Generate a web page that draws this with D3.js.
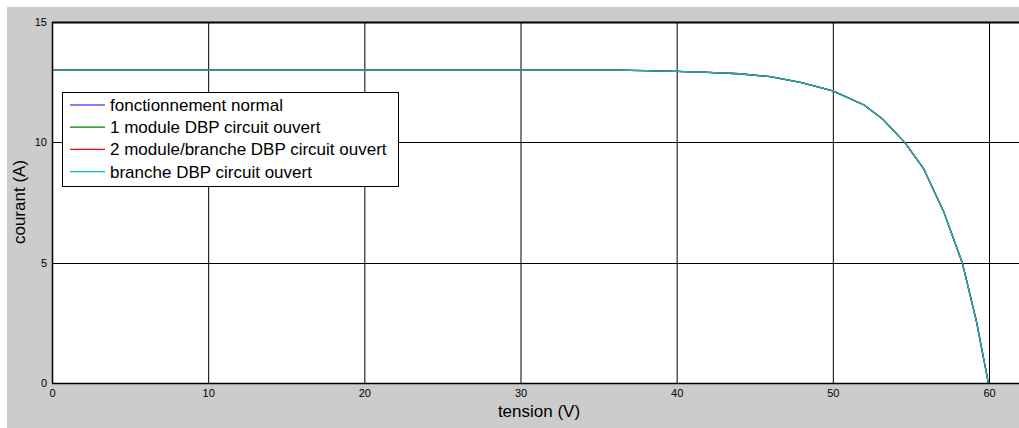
<!DOCTYPE html>
<html>
<head>
<meta charset="utf-8">
<script src="https://cdn.jsdelivr.net/npm/d3@7"></script>
<style>
  html, body { margin: 0; padding: 0; background: #ffffff; }
  svg { display: block; }
  text { font-family: "Liberation Sans", Arial, Helvetica, sans-serif; fill: #000; }
</style>
</head>
<body>
<svg id="chart" width="1019" height="428"></svg>
<script>
// I-V characteristic of the PV array (tension in V, courant in A)
const tension = [0, 10, 20, 30, 36, 38, 40, 42, 44, 46, 48, 50, 52, 53.2, 54.6, 55.8, 57.1, 58.3, 59.2, 59.96];
const courantNormal = [13, 13, 13, 13, 13, 12.98, 12.95, 12.91, 12.85, 12.73, 12.48, 12.14, 11.55, 10.96, 10.0, 8.92, 7.12, 4.97, 2.55, 0];
const courantModule = [13, 13, 13, 13, 13, 12.98, 12.95, 12.91, 12.85, 12.73, 12.48, 12.14, 11.55, 10.96, 10.0, 8.92, 7.12, 4.97, 2.55, 0];
const courantModuleBranche = [13, 13, 13, 13, 13, 12.98, 12.95, 12.91, 12.85, 12.73, 12.48, 12.14, 11.55, 10.96, 10.0, 8.92, 7.12, 4.97, 2.55, 0];
const courantBranche = [13, 13, 13, 13, 13, 12.98, 12.95, 12.91, 12.85, 12.73, 12.48, 12.14, 11.55, 10.96, 10.0, 8.92, 7.12, 4.97, 2.55, 0];

const seriesNames = [
  "fonctionnement normal",
  "1 module DBP circuit ouvert",
  "2 module/branche DBP circuit ouvert",
  "branche DBP circuit ouvert"
];
const seriesColors = ["#0000ff", "#007f00", "#ff0000", "#00bfbf"];
const seriesValues = [courantNormal, courantModule, courantModuleBranche, courantBranche];

const xTicks = [0, 10, 20, 30, 40, 50, 60];
const yTicks = [0, 5, 10, 15];

const svg = d3.select("#chart");
const W = 1019, H = 428;

// figure background
svg.append("rect").attr("x", 7).attr("y", 7).attr("width", W - 7).attr("height", H - 7)
  .attr("fill", "#cccccc");

const plot = { left: 52, top: 22, bottom: 383 };
const x = d3.scaleLinear().domain([0, 65]).range([plot.left, plot.left + 65 * (989 - 52) / 60]);
const y = d3.scaleLinear().domain([0, 15]).range([plot.bottom, plot.top]);

// axes background
svg.append("rect")
  .attr("x", plot.left).attr("y", plot.top)
  .attr("width", x(65) - plot.left).attr("height", plot.bottom - plot.top)
  .attr("fill", "#ffffff");

// grid
const grid = svg.append("g");
grid.selectAll("line.gx").data(xTicks.filter(d => d > 0)).join("line")
  .attr("x1", d => x(d) + 0.5).attr("x2", d => x(d) + 0.5)
  .attr("y1", plot.top).attr("y2", plot.bottom)
  .attr("stroke", "#000").attr("stroke-width", 1);
grid.selectAll("line.gy").data(yTicks.filter(d => d > 0 && d < 15)).join("line")
  .attr("x1", plot.left).attr("x2", x(65))
  .attr("y1", d => Math.round(y(d)) + 0.5).attr("y2", d => Math.round(y(d)) + 0.5)
  .attr("stroke", "#000").attr("stroke-width", 1);

// curves
const line = d3.line().x(d => x(d[0])).y(d => y(d[1]));
seriesValues.forEach((vals, i) => {
  svg.append("path")
    .datum(tension.map((t, k) => [t, vals[k]]))
    .attr("d", line)
    .attr("fill", "none")
    .attr("stroke", seriesColors[i])
    .attr("stroke-width", 1.3);
});

// axes frame
svg.append("line").attr("x1", plot.left).attr("x2", x(65)).attr("y1", plot.top + 0.5).attr("y2", plot.top + 0.5)
  .attr("stroke", "#000").attr("stroke-width", 2);
svg.append("line").attr("x1", plot.left).attr("x2", x(65)).attr("y1", plot.bottom + 0.5).attr("y2", plot.bottom + 0.5)
  .attr("stroke", "#000").attr("stroke-width", 1.5);
svg.append("line").attr("x1", plot.left + 0.5).attr("x2", plot.left + 0.5).attr("y1", plot.top).attr("y2", plot.bottom)
  .attr("stroke", "#000").attr("stroke-width", 1.5);

// axis tick labels via d3 axes
const xAxis = d3.axisBottom(x).tickValues(xTicks).tickSize(0).tickPadding(6).tickFormat(d3.format("d"));
const gx = svg.append("g").attr("transform", `translate(0,${plot.bottom})`).call(xAxis);
gx.select(".domain").remove();
gx.selectAll("text").attr("font-size", 11).attr("font-family", "Liberation Sans, Arial, sans-serif");

const yAxis = d3.axisLeft(y).tickValues(yTicks).tickSize(0).tickPadding(5).tickFormat(d3.format("d"));
const gy = svg.append("g").attr("transform", `translate(${plot.left},0)`).call(yAxis);
gy.select(".domain").remove();
gy.selectAll("text").attr("font-size", 11).attr("font-family", "Liberation Sans, Arial, sans-serif");

// axis titles
svg.append("text").attr("x", 539).attr("y", 417).attr("text-anchor", "middle")
  .attr("font-size", 17).text("tension (V)");
svg.append("text").attr("transform", `translate(25,202) rotate(-90)`).attr("text-anchor", "middle")
  .attr("font-size", 17).text("courant (A)");

// legend
const lg = svg.append("g");
lg.append("rect").attr("x", 62.5).attr("y", 92.5).attr("width", 336).attr("height", 94)
  .attr("fill", "#fff").attr("stroke", "#000").attr("stroke-width", 1);
seriesNames.forEach((name, i) => {
  const cy = 105 + i * 22.2;
  lg.append("line").attr("x1", 70).attr("x2", 105).attr("y1", cy).attr("y2", cy)
    .attr("stroke", seriesColors[i]).attr("stroke-width", 1.2);
  lg.append("text").attr("x", 110).attr("y", cy + 6).attr("font-size", 17).text(name);
});
</script>
</body>
</html>
